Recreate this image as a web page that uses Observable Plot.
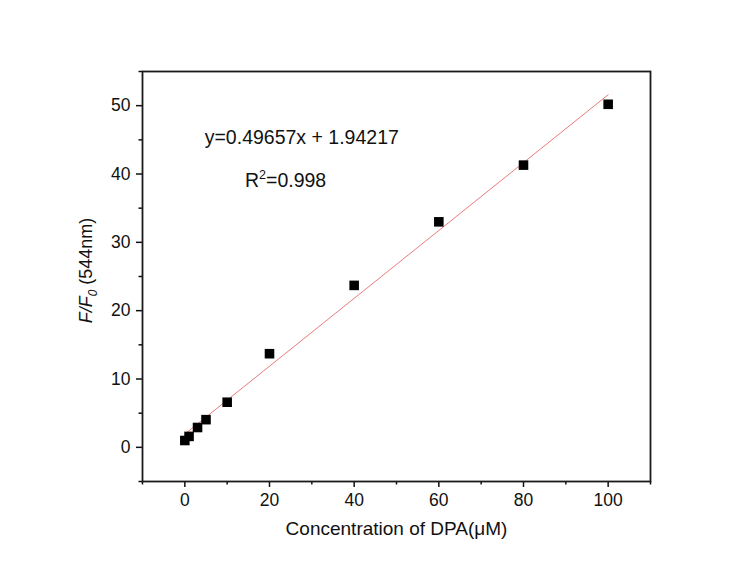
<!DOCTYPE html>
<html>
<head>
<meta charset="utf-8">
<script src="https://cdn.jsdelivr.net/npm/d3@7"></script>
<script src="https://cdn.jsdelivr.net/npm/@observablehq/plot@0.6"></script>
<style>
  html, body { margin: 0; padding: 0; background: #fff; }
  #chart { width: 745px; height: 561px; }
</style>
</head>
<body>
<div id="chart"></div>
<script>
// Measured data
const concentration = [0, 1, 3, 5, 10, 20, 40, 60, 80, 100];
const ratio = [1.0, 1.6, 2.9, 4.05, 6.6, 13.7, 23.7, 33.0, 41.3, 50.2];

// Fitted line endpoints (from the printed equation y=0.49657x + 1.94217)
const fitX = [0, 100];
const fitY = [1.94217, 51.59917];

// Ticks
const xTicks = [0, 20, 40, 60, 80, 100];
const xMinor = [-10, 10, 30, 50, 70, 90, 110];
const yTicks = [0, 10, 20, 30, 40, 50];
const yMinor = [-5, 5, 15, 25, 35, 45, 55];

// Labels
const xTitle = "Concentration of DPA(\u03BCM)";
const yTitle = "F/F0 (544nm)";
const equationText = "y=0.49657x + 1.94217";
const r2Text = "R2=0.998";

const points = concentration.map((c, i) => ({x: c, y: ratio[i]}));
const fit = fitX.map((x, i) => ({x, y: fitY[i]}));

const font = "'Liberation Sans', Arial, sans-serif";

const plot = Plot.plot({
  width: 745,
  height: 561,
  marginLeft: 142,
  marginRight: 95,
  marginTop: 71,
  marginBottom: 80,
  style: {fontFamily: font, fontSize: "17.5px", color: "#111", background: "#fff"},
  x: {domain: [-10, 110]},
  y: {domain: [-5, 55]},
  marks: [
    Plot.axisX(xTicks, {tickSize: 6, tickPadding: 6, strokeWidth: 1.5, fontSize: 17.5, label: null}),
    Plot.axisX(xMinor, {tickSize: 3.5, strokeWidth: 1.5, text: null, label: null}),
    Plot.axisY(yTicks, {tickSize: 6, tickPadding: 6, strokeWidth: 1.5, fontSize: 17.5, label: null}),
    Plot.axisY(yMinor, {tickSize: 3.5, strokeWidth: 1.5, text: null, label: null}),
    Plot.frame({stroke: "#1a1a1a", strokeWidth: 1.8}),
    Plot.line(fit, {x: "x", y: "y", stroke: "#eb7b7b", strokeWidth: 1}),
    Plot.dot(points, {x: "x", y: "y", symbol: "square", r: 5.4, fill: "#000", stroke: null}),
    Plot.text([equationText], {x: 4.7, y: 44.4, text: d => d, textAnchor: "start", lineAnchor: "bottom", fontSize: 19.5, fill: "#111"}),
    Plot.text([r2Text], {x: 14.2, y: 38.06, text: d => d, textAnchor: "start", lineAnchor: "bottom", fontSize: 19.5, fill: "#111"}),
    Plot.text([xTitle], {frameAnchor: "bottom", dy: 53, text: d => d, lineAnchor: "bottom", fontSize: 19, fill: "#111"}),
    Plot.text([yTitle], {frameAnchor: "left", dx: -56, dy: -6, rotate: -90, text: d => d, textAnchor: "middle", lineAnchor: "middle", fontSize: 18, fill: "#111"})
  ]
});

// Rich text: subscript and superscript
d3.select(plot).selectAll("text").each(function() {
  const t = d3.select(this);
  const content = this.textContent;
  if (content === yTitle) {
    t.text(null);
    t.append("tspan").attr("font-style", "italic").text("F/F");
    t.append("tspan").attr("font-style", "italic").attr("font-size", "12px").attr("dy", "5px").text("0");
    t.append("tspan").attr("dy", "-5px").text(" (544nm)");
  } else if (content === r2Text) {
    t.text(null);
    t.append("tspan").text("R");
    t.append("tspan").attr("font-size", "12.5px").attr("dy", "-8px").text("2");
    t.append("tspan").attr("dy", "8px").text("=0.998");
  }
});

document.getElementById("chart").appendChild(plot);
</script>
</body>
</html>
